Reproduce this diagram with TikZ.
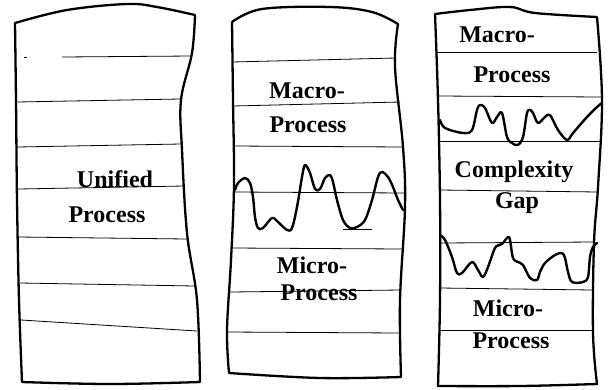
\documentclass[tikz,border=0pt]{standalone}
\usepackage{fontspec}
\setmainfont{Liberation Serif}
\begin{document}
\begin{tikzpicture}[x=1pt,y=-1pt,
  outline/.style={line width=2.3pt,line join=round,line cap=round},
  band/.style={line width=0.8pt},
  wave/.style={line width=2.4pt,line join=round,line cap=round},
  lbl/.style={font=\fontsize{24}{26}\selectfont\bfseries,anchor=base,inner sep=0pt}]
\useasboundingbox (0,0) rectangle (609,389);
% ---------- column 1 ----------
\draw[outline] plot[smooth,tension=0.6] coordinates {(15,23) (67,10) (127,4) (157,7) (195,15)}
  -- plot[smooth,tension=0.6] coordinates {(195,15) (192,53) (181,100) (182,150) (187,233) (197,300) (200,382)}
  -- plot[smooth,tension=0.6] coordinates {(200,382) (110,384) (22,382)}
  -- plot[smooth,tension=0.6] coordinates {(22,382) (19,300) (17,200) (16,100) (15,23)};
\draw[band] (62,57) -- (192,56);
\draw[band] (24,57) -- (27,57);
\draw[band] (17,102) -- (180,99);
\draw[band] (17,147) -- (181,144);
\draw[band] (18,189) -- (184,186);
\draw[band] (18,237) -- (187,239);
\draw[band] (20,283) -- (195,286);
\draw[band] (21,320) -- (197,331);
\node[lbl] (unified) at (115,187) {Unified};
\node[lbl] (process1) at (107,222) {Process};
% ---------- column 2 ----------
\draw[outline] plot[smooth,tension=0.6] coordinates {(232,22) (262,9) (330,7) (372,12) (398,24)}
  -- plot[smooth,tension=0.6] coordinates {(398,24) (395,67) (403,147) (405,207) (400,300) (401,377)}
  -- plot[smooth,tension=0.6] coordinates {(401,377) (320,378) (229,373)}
  -- plot[smooth,tension=0.6] coordinates {(229,373) (227,330) (231,260) (234,185) (233,100) (232,22)};
\draw[band] (232,62) -- (396,58);
\draw[band] (233,106) -- (400,102);
\draw[band] (234,146) -- (403,147);
\draw[band] (234,192) -- (405,193);
\draw[band] (232,248) -- (402,249);
\draw[band] (230,292) -- (401,290);
\draw[band] (228,332) -- (400,333);
\draw[band] (343,229) -- (372,229);
\draw[wave] plot[smooth,tension=0.55] coordinates {(235,190) (238,183) (245,178) (250,183) (253,197) (255,217) (258,228) (263,228) (272,218) (278,222) (287,230) (292,228) (297,207) (302,177) (305,165) (310,173) (315,189) (320,189) (325,178) (330,175) (333,182) (337,200) (343,220) (350,228) (357,227) (365,220) (372,200) (378,177) (382,172) (388,177) (393,187) (398,200) (403,210)};
\node[lbl] (macro2) at (307,98) {Macro-};
\node[lbl] (process2a) at (308,132) {Process};
\node[lbl] (micro2) at (312,273) {Micro-};
\node[lbl] (process2b) at (319,300) {Process};
% ---------- column 3 ----------
\draw[outline] plot[smooth,tension=0.6] coordinates {(435,14) (470,10) (510,7) (535,13) (597,17)}
  -- plot[smooth,tension=0.6] coordinates {(597,17) (602,100) (598,187) (594,243) (593,333) (597,384)}
  -- plot[smooth,tension=0.6] coordinates {(597,384) (520,386) (438,386)}
  -- plot[smooth,tension=0.6] coordinates {(438,386) (440,300) (440,200) (438,100) (435,14)};
\draw[band] (437,52) -- (597,52);
\draw[band] (438,96) -- (601,97);
\draw[band] (439,141) -- (600,141);
\draw[band] (440,190) -- (598,192);
\draw[band] (440,243) -- (595,242);
\draw[band] (440,288) -- (593,290);
\draw[band] (440,330) -- (593,330);
\draw[wave] plot[smooth,tension=0.55] coordinates {(440,120) (445,128) (463,133) (472,130) (477,110) (480,105) (485,108) (492,123) (497,117) (502,113) (507,137) (512,143) (518,145) (523,137) (527,113) (530,110) (533,113) (538,123) (545,117) (550,115) (558,130) (567,140) (573,133) (587,117) (597,107) (602,103)};
\draw[wave] plot[smooth,tension=0.55] coordinates {(440,235) (445,240) (452,257) (457,273) (462,273) (472,262) (478,270) (483,277) (488,267) (495,248) (500,245) (503,243) (508,237) (510,240) (513,258) (518,262) (523,265) (530,278) (537,280) (540,272) (545,263) (555,255) (562,253) (565,258) (568,272) (572,282) (583,282) (588,277) (590,257) (593,247) (597,243)};
\node[lbl] (macro3) at (497,42) {Macro-};
\node[lbl] (process3a) at (512,82) {Process};
\node[lbl] (complexity) at (514,177) {Complexity};
\node[lbl] (gap) at (517,208) {Gap};
\node[lbl] (micro3) at (508,316) {Micro-};
\node[lbl] (process3b) at (511,348) {Process};
\end{tikzpicture}
\end{document}
